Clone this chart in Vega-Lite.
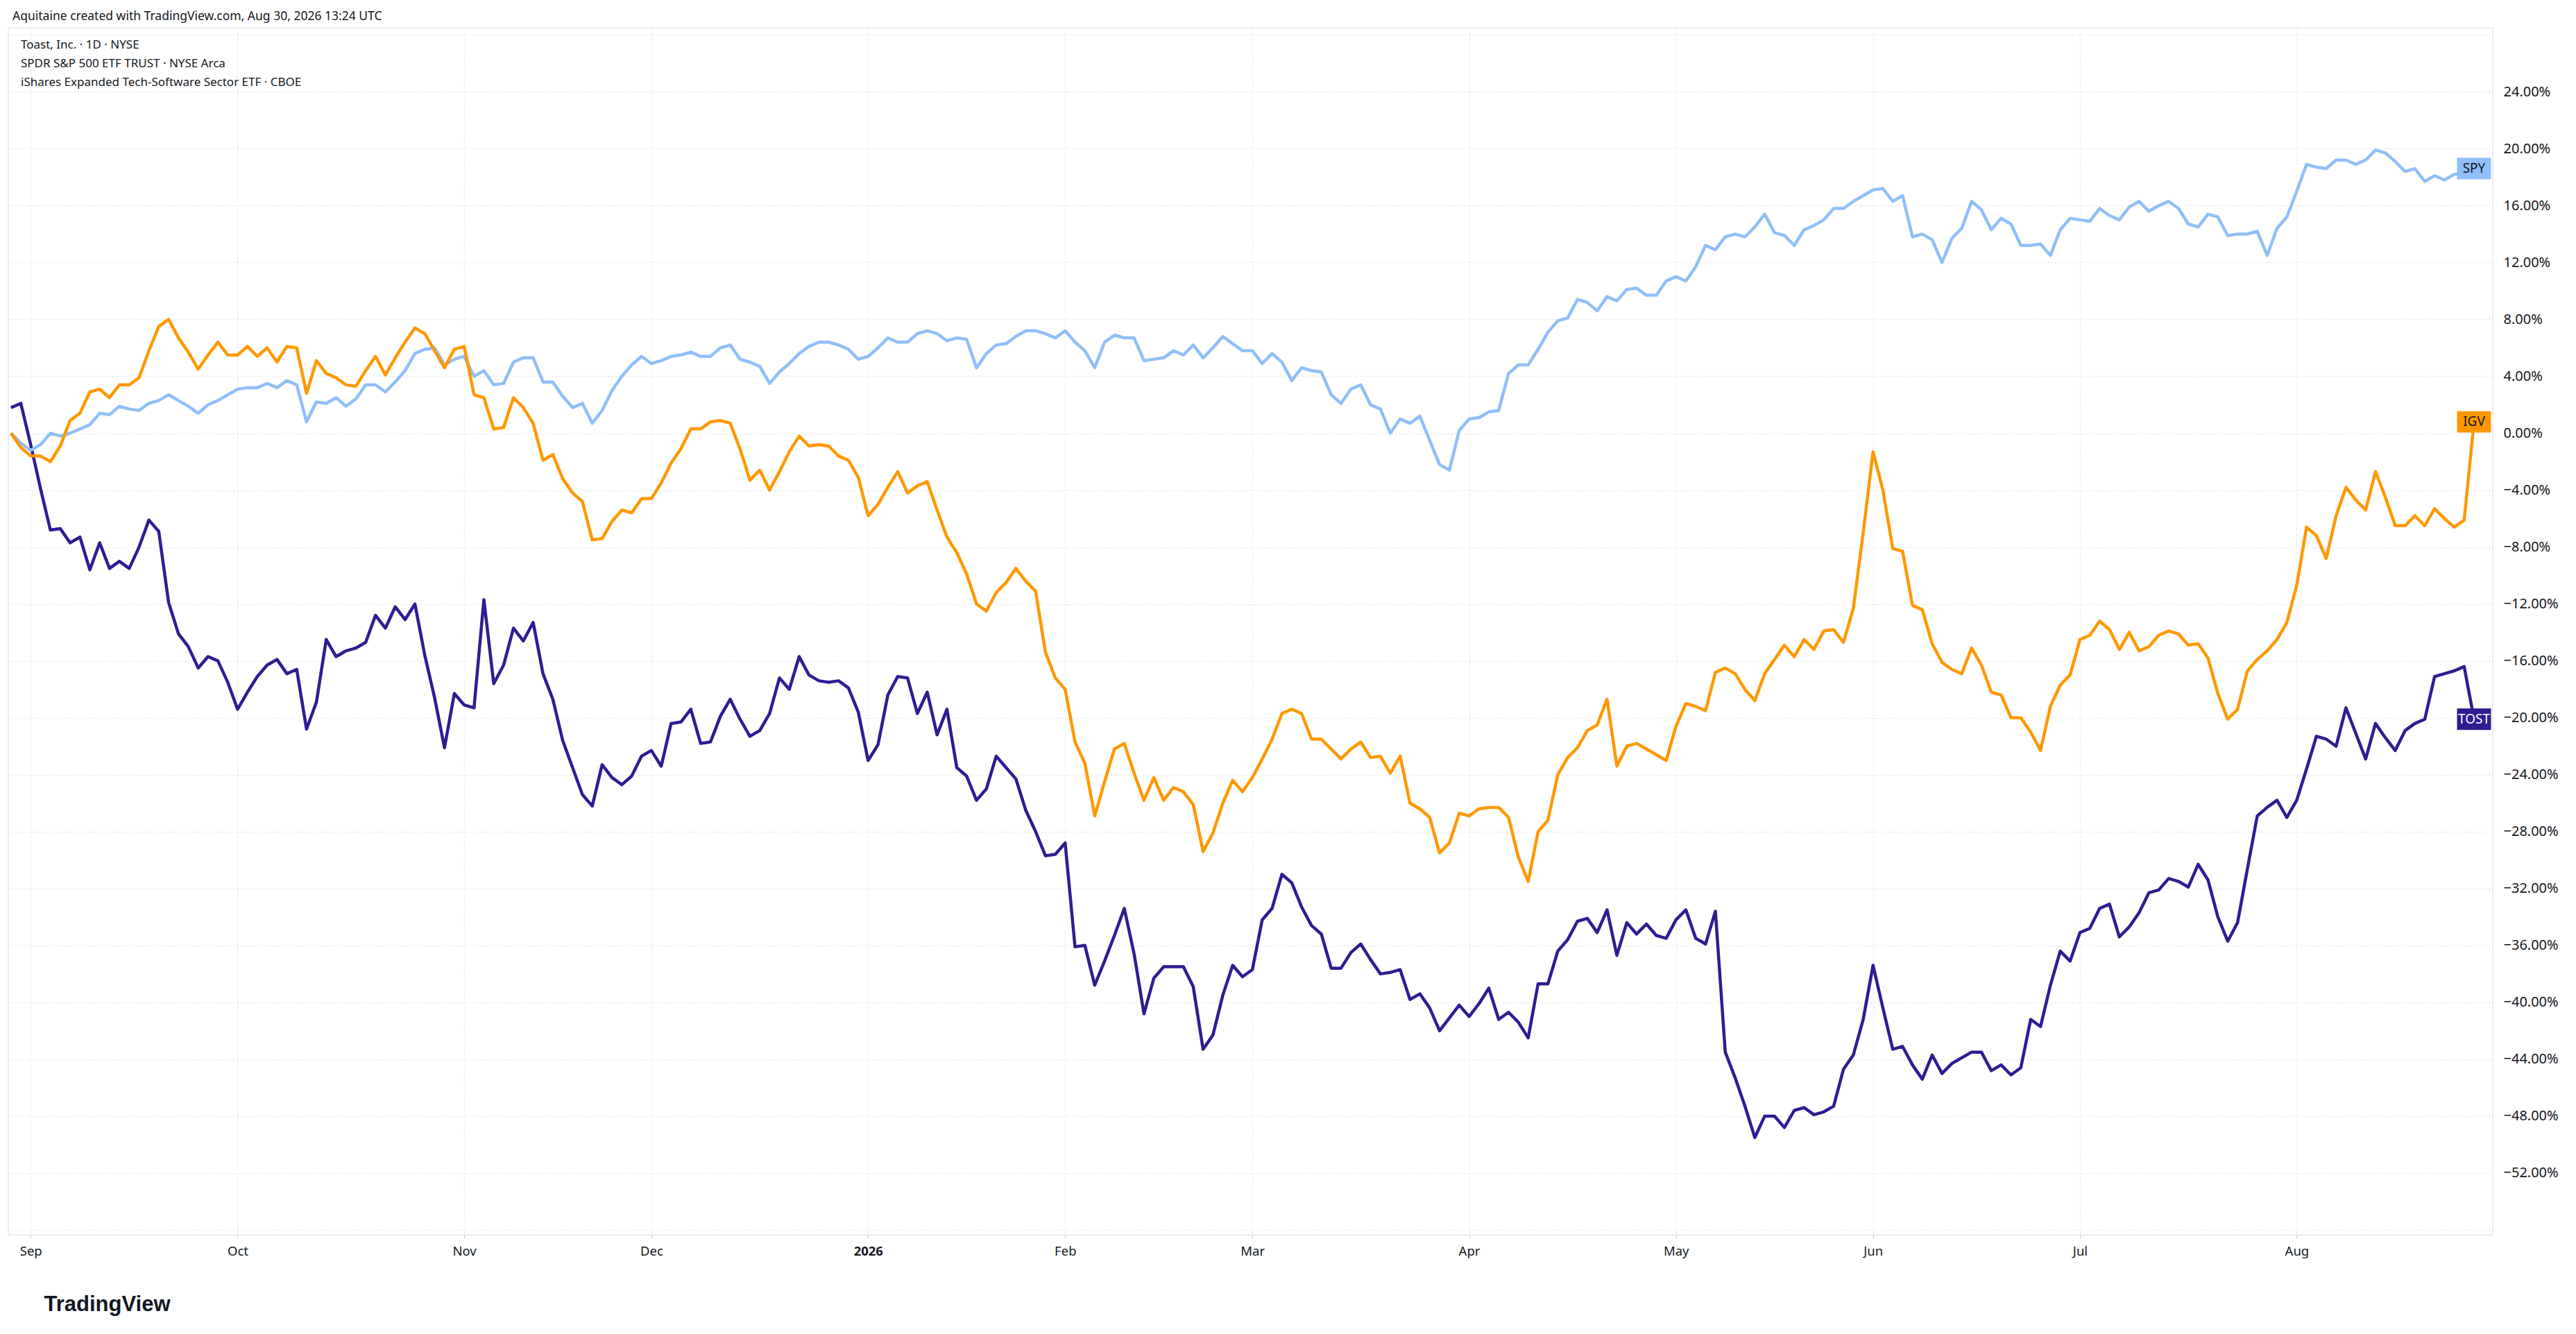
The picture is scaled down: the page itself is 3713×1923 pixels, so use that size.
{
  "$schema": "https://vega.github.io/schema/vega-lite/v6.json",
  "description": "TOST vs SPY vs IGV, percent change, daily, Aug 2025 - Aug 2026",
  "autosize": {"type": "none"},
  "width": 3581,
  "height": 1740,
  "padding": {"left": 12, "top": 40, "right": 120, "bottom": 143},
  "background": "#ffffff",
  "config": {
    "font": "Noto Sans",
    "view": {"stroke": "#e6e9ef", "strokeWidth": 1.5}
  },
  "title": {
    "text": "Aquitaine created with TradingView.com, Aug 30, 2026 13:24 UTC",
    "anchor": "start",
    "frame": "group",
    "fontSize": 17.5,
    "fontWeight": "normal",
    "color": "#131722",
    "baseline": "bottom",
    "offset": 6,
    "dx": 6,
    "dy": 16
  },
  "data": {
    "values": [
      {"i":0,"TOST":1.8,"SPY":0.0,"IGV":0.0},
      {"i":1,"TOST":2.1,"SPY":-0.7,"IGV":-1.0},
      {"i":2,"TOST":-0.8,"SPY":-1.2,"IGV":-1.6},
      {"i":3,"TOST":-3.9,"SPY":-0.8,"IGV":-1.6},
      {"i":4,"TOST":-6.8,"SPY":0.0,"IGV":-2.0},
      {"i":5,"TOST":-6.7,"SPY":-0.2,"IGV":-0.9},
      {"i":6,"TOST":-7.7,"SPY":0.0,"IGV":0.9},
      {"i":7,"TOST":-7.3,"SPY":0.3,"IGV":1.4},
      {"i":8,"TOST":-9.6,"SPY":0.6,"IGV":2.9},
      {"i":9,"TOST":-7.7,"SPY":1.4,"IGV":3.1},
      {"i":10,"TOST":-9.5,"SPY":1.3,"IGV":2.5},
      {"i":11,"TOST":-9.0,"SPY":1.9,"IGV":3.4},
      {"i":12,"TOST":-9.5,"SPY":1.7,"IGV":3.4},
      {"i":13,"TOST":-8.0,"SPY":1.6,"IGV":3.9},
      {"i":14,"TOST":-6.1,"SPY":2.1,"IGV":5.8},
      {"i":15,"TOST":-6.9,"SPY":2.3,"IGV":7.5},
      {"i":16,"TOST":-11.9,"SPY":2.7,"IGV":8.0},
      {"i":17,"TOST":-14.1,"SPY":2.3,"IGV":6.7},
      {"i":18,"TOST":-15.0,"SPY":1.9,"IGV":5.7},
      {"i":19,"TOST":-16.5,"SPY":1.4,"IGV":4.5},
      {"i":20,"TOST":-15.7,"SPY":2.0,"IGV":5.5},
      {"i":21,"TOST":-16.0,"SPY":2.3,"IGV":6.4},
      {"i":22,"TOST":-17.5,"SPY":2.7,"IGV":5.5},
      {"i":23,"TOST":-19.4,"SPY":3.1,"IGV":5.5},
      {"i":24,"TOST":-18.2,"SPY":3.2,"IGV":6.1},
      {"i":25,"TOST":-17.1,"SPY":3.2,"IGV":5.4},
      {"i":26,"TOST":-16.3,"SPY":3.5,"IGV":6.0},
      {"i":27,"TOST":-15.9,"SPY":3.2,"IGV":5.0},
      {"i":28,"TOST":-16.9,"SPY":3.7,"IGV":6.1},
      {"i":29,"TOST":-16.6,"SPY":3.4,"IGV":6.0},
      {"i":30,"TOST":-20.8,"SPY":0.8,"IGV":2.8},
      {"i":31,"TOST":-18.9,"SPY":2.2,"IGV":5.1},
      {"i":32,"TOST":-14.5,"SPY":2.1,"IGV":4.2},
      {"i":33,"TOST":-15.7,"SPY":2.5,"IGV":3.9},
      {"i":34,"TOST":-15.3,"SPY":1.9,"IGV":3.4},
      {"i":35,"TOST":-15.1,"SPY":2.4,"IGV":3.3},
      {"i":36,"TOST":-14.7,"SPY":3.4,"IGV":4.4},
      {"i":37,"TOST":-12.8,"SPY":3.4,"IGV":5.4},
      {"i":38,"TOST":-13.7,"SPY":2.9,"IGV":4.1},
      {"i":39,"TOST":-12.2,"SPY":3.6,"IGV":5.3},
      {"i":40,"TOST":-13.1,"SPY":4.4,"IGV":6.4},
      {"i":41,"TOST":-12.0,"SPY":5.6,"IGV":7.4},
      {"i":42,"TOST":-15.6,"SPY":5.9,"IGV":7.0},
      {"i":43,"TOST":-18.6,"SPY":6.0,"IGV":5.8},
      {"i":44,"TOST":-22.1,"SPY":4.8,"IGV":4.6},
      {"i":45,"TOST":-18.3,"SPY":5.2,"IGV":5.9},
      {"i":46,"TOST":-19.1,"SPY":5.4,"IGV":6.1},
      {"i":47,"TOST":-19.3,"SPY":4.0,"IGV":2.7},
      {"i":48,"TOST":-11.7,"SPY":4.4,"IGV":2.5},
      {"i":49,"TOST":-17.6,"SPY":3.4,"IGV":0.3},
      {"i":50,"TOST":-16.3,"SPY":3.5,"IGV":0.4},
      {"i":51,"TOST":-13.7,"SPY":5.0,"IGV":2.5},
      {"i":52,"TOST":-14.6,"SPY":5.3,"IGV":1.8},
      {"i":53,"TOST":-13.3,"SPY":5.3,"IGV":0.7},
      {"i":54,"TOST":-16.9,"SPY":3.6,"IGV":-1.9},
      {"i":55,"TOST":-18.7,"SPY":3.6,"IGV":-1.5},
      {"i":56,"TOST":-21.6,"SPY":2.6,"IGV":-3.2},
      {"i":57,"TOST":-23.5,"SPY":1.8,"IGV":-4.2},
      {"i":58,"TOST":-25.4,"SPY":2.1,"IGV":-4.8},
      {"i":59,"TOST":-26.2,"SPY":0.7,"IGV":-7.5},
      {"i":60,"TOST":-23.3,"SPY":1.6,"IGV":-7.4},
      {"i":61,"TOST":-24.2,"SPY":3.0,"IGV":-6.2},
      {"i":62,"TOST":-24.7,"SPY":4.0,"IGV":-5.4},
      {"i":63,"TOST":-24.1,"SPY":4.8,"IGV":-5.6},
      {"i":64,"TOST":-22.7,"SPY":5.4,"IGV":-4.6},
      {"i":65,"TOST":-22.3,"SPY":4.9,"IGV":-4.6},
      {"i":66,"TOST":-23.4,"SPY":5.1,"IGV":-3.5},
      {"i":67,"TOST":-20.4,"SPY":5.4,"IGV":-2.1},
      {"i":68,"TOST":-20.3,"SPY":5.5,"IGV":-1.1},
      {"i":69,"TOST":-19.4,"SPY":5.7,"IGV":0.3},
      {"i":70,"TOST":-21.8,"SPY":5.4,"IGV":0.3},
      {"i":71,"TOST":-21.7,"SPY":5.4,"IGV":0.8},
      {"i":72,"TOST":-19.9,"SPY":6.0,"IGV":0.9},
      {"i":73,"TOST":-18.7,"SPY":6.2,"IGV":0.7},
      {"i":74,"TOST":-20.1,"SPY":5.2,"IGV":-1.1},
      {"i":75,"TOST":-21.3,"SPY":5.0,"IGV":-3.3},
      {"i":76,"TOST":-20.9,"SPY":4.7,"IGV":-2.6},
      {"i":77,"TOST":-19.7,"SPY":3.5,"IGV":-4.0},
      {"i":78,"TOST":-17.2,"SPY":4.3,"IGV":-2.7},
      {"i":79,"TOST":-18.0,"SPY":4.9,"IGV":-1.3},
      {"i":80,"TOST":-15.7,"SPY":5.6,"IGV":-0.2},
      {"i":81,"TOST":-17.0,"SPY":6.1,"IGV":-0.9},
      {"i":82,"TOST":-17.4,"SPY":6.4,"IGV":-0.8},
      {"i":83,"TOST":-17.5,"SPY":6.4,"IGV":-0.9},
      {"i":84,"TOST":-17.4,"SPY":6.2,"IGV":-1.6},
      {"i":85,"TOST":-17.9,"SPY":5.9,"IGV":-1.9},
      {"i":86,"TOST":-19.6,"SPY":5.2,"IGV":-3.1},
      {"i":87,"TOST":-23.0,"SPY":5.4,"IGV":-5.8},
      {"i":88,"TOST":-21.9,"SPY":6.0,"IGV":-5.0},
      {"i":89,"TOST":-18.4,"SPY":6.7,"IGV":-3.8},
      {"i":90,"TOST":-17.1,"SPY":6.4,"IGV":-2.7},
      {"i":91,"TOST":-17.2,"SPY":6.4,"IGV":-4.2},
      {"i":92,"TOST":-19.7,"SPY":7.0,"IGV":-3.7},
      {"i":93,"TOST":-18.2,"SPY":7.2,"IGV":-3.4},
      {"i":94,"TOST":-21.2,"SPY":7.0,"IGV":-5.4},
      {"i":95,"TOST":-19.4,"SPY":6.5,"IGV":-7.3},
      {"i":96,"TOST":-23.5,"SPY":6.7,"IGV":-8.4},
      {"i":97,"TOST":-24.1,"SPY":6.6,"IGV":-9.9},
      {"i":98,"TOST":-25.8,"SPY":4.6,"IGV":-12.0},
      {"i":99,"TOST":-25.0,"SPY":5.6,"IGV":-12.5},
      {"i":100,"TOST":-22.7,"SPY":6.2,"IGV":-11.2},
      {"i":101,"TOST":-23.5,"SPY":6.3,"IGV":-10.5},
      {"i":102,"TOST":-24.3,"SPY":6.8,"IGV":-9.5},
      {"i":103,"TOST":-26.5,"SPY":7.2,"IGV":-10.4},
      {"i":104,"TOST":-28.0,"SPY":7.2,"IGV":-11.1},
      {"i":105,"TOST":-29.7,"SPY":7.0,"IGV":-15.4},
      {"i":106,"TOST":-29.6,"SPY":6.7,"IGV":-17.2},
      {"i":107,"TOST":-28.8,"SPY":7.2,"IGV":-18.0},
      {"i":108,"TOST":-36.1,"SPY":6.4,"IGV":-21.7},
      {"i":109,"TOST":-36.0,"SPY":5.8,"IGV":-23.2},
      {"i":110,"TOST":-38.8,"SPY":4.6,"IGV":-26.9},
      {"i":111,"TOST":-37.1,"SPY":6.4,"IGV":-24.5},
      {"i":112,"TOST":-35.3,"SPY":6.9,"IGV":-22.2},
      {"i":113,"TOST":-33.4,"SPY":6.7,"IGV":-21.8},
      {"i":114,"TOST":-36.6,"SPY":6.7,"IGV":-23.9},
      {"i":115,"TOST":-40.8,"SPY":5.1,"IGV":-25.8},
      {"i":116,"TOST":-38.3,"SPY":5.2,"IGV":-24.2},
      {"i":117,"TOST":-37.5,"SPY":5.3,"IGV":-25.8},
      {"i":118,"TOST":-37.5,"SPY":5.8,"IGV":-24.9},
      {"i":119,"TOST":-37.5,"SPY":5.5,"IGV":-25.2},
      {"i":120,"TOST":-38.9,"SPY":6.2,"IGV":-26.1},
      {"i":121,"TOST":-43.3,"SPY":5.3,"IGV":-29.4},
      {"i":122,"TOST":-42.3,"SPY":6.0,"IGV":-28.1},
      {"i":123,"TOST":-39.5,"SPY":6.8,"IGV":-26.0},
      {"i":124,"TOST":-37.4,"SPY":6.3,"IGV":-24.4},
      {"i":125,"TOST":-38.2,"SPY":5.8,"IGV":-25.2},
      {"i":126,"TOST":-37.7,"SPY":5.8,"IGV":-24.2},
      {"i":127,"TOST":-34.2,"SPY":4.9,"IGV":-22.9},
      {"i":128,"TOST":-33.4,"SPY":5.6,"IGV":-21.5},
      {"i":129,"TOST":-31.0,"SPY":5.0,"IGV":-19.7},
      {"i":130,"TOST":-31.6,"SPY":3.7,"IGV":-19.4},
      {"i":131,"TOST":-33.3,"SPY":4.6,"IGV":-19.7},
      {"i":132,"TOST":-34.6,"SPY":4.4,"IGV":-21.5},
      {"i":133,"TOST":-35.2,"SPY":4.3,"IGV":-21.5},
      {"i":134,"TOST":-37.6,"SPY":2.7,"IGV":-22.2},
      {"i":135,"TOST":-37.6,"SPY":2.1,"IGV":-22.9},
      {"i":136,"TOST":-36.5,"SPY":3.1,"IGV":-22.2},
      {"i":137,"TOST":-35.9,"SPY":3.4,"IGV":-21.7},
      {"i":138,"TOST":-37.0,"SPY":2.0,"IGV":-22.8},
      {"i":139,"TOST":-38.0,"SPY":1.7,"IGV":-22.7},
      {"i":140,"TOST":-37.9,"SPY":0.0,"IGV":-23.9},
      {"i":141,"TOST":-37.7,"SPY":1.0,"IGV":-22.7},
      {"i":142,"TOST":-39.8,"SPY":0.7,"IGV":-26.0},
      {"i":143,"TOST":-39.4,"SPY":1.2,"IGV":-26.4},
      {"i":144,"TOST":-40.4,"SPY":-0.5,"IGV":-27.0},
      {"i":145,"TOST":-42.0,"SPY":-2.2,"IGV":-29.5},
      {"i":146,"TOST":-41.1,"SPY":-2.6,"IGV":-28.8},
      {"i":147,"TOST":-40.2,"SPY":0.2,"IGV":-26.7},
      {"i":148,"TOST":-41.0,"SPY":1.0,"IGV":-26.9},
      {"i":149,"TOST":-40.1,"SPY":1.1,"IGV":-26.4},
      {"i":150,"TOST":-39.0,"SPY":1.5,"IGV":-26.3},
      {"i":151,"TOST":-41.2,"SPY":1.6,"IGV":-26.3},
      {"i":152,"TOST":-40.7,"SPY":4.2,"IGV":-27.0},
      {"i":153,"TOST":-41.4,"SPY":4.8,"IGV":-29.8},
      {"i":154,"TOST":-42.5,"SPY":4.8,"IGV":-31.5},
      {"i":155,"TOST":-38.7,"SPY":5.9,"IGV":-28.0},
      {"i":156,"TOST":-38.7,"SPY":7.1,"IGV":-27.2},
      {"i":157,"TOST":-36.4,"SPY":7.9,"IGV":-24.0},
      {"i":158,"TOST":-35.6,"SPY":8.1,"IGV":-22.8},
      {"i":159,"TOST":-34.3,"SPY":9.4,"IGV":-22.1},
      {"i":160,"TOST":-34.1,"SPY":9.2,"IGV":-20.9},
      {"i":161,"TOST":-35.1,"SPY":8.6,"IGV":-20.5},
      {"i":162,"TOST":-33.5,"SPY":9.6,"IGV":-18.7},
      {"i":163,"TOST":-36.7,"SPY":9.3,"IGV":-23.4},
      {"i":164,"TOST":-34.4,"SPY":10.1,"IGV":-22.0},
      {"i":165,"TOST":-35.2,"SPY":10.2,"IGV":-21.8},
      {"i":166,"TOST":-34.5,"SPY":9.7,"IGV":-22.2},
      {"i":167,"TOST":-35.3,"SPY":9.7,"IGV":-22.6},
      {"i":168,"TOST":-35.5,"SPY":10.7,"IGV":-23.0},
      {"i":169,"TOST":-34.2,"SPY":11.0,"IGV":-20.6},
      {"i":170,"TOST":-33.5,"SPY":10.7,"IGV":-19.0},
      {"i":171,"TOST":-35.5,"SPY":11.7,"IGV":-19.2},
      {"i":172,"TOST":-35.9,"SPY":13.2,"IGV":-19.5},
      {"i":173,"TOST":-33.6,"SPY":12.9,"IGV":-16.8},
      {"i":174,"TOST":-43.5,"SPY":13.8,"IGV":-16.5},
      {"i":175,"TOST":-45.3,"SPY":14.0,"IGV":-16.9},
      {"i":176,"TOST":-47.3,"SPY":13.8,"IGV":-18.0},
      {"i":177,"TOST":-49.5,"SPY":14.5,"IGV":-18.8},
      {"i":178,"TOST":-48.0,"SPY":15.4,"IGV":-16.9},
      {"i":179,"TOST":-48.0,"SPY":14.1,"IGV":-15.9},
      {"i":180,"TOST":-48.8,"SPY":13.9,"IGV":-14.9},
      {"i":181,"TOST":-47.6,"SPY":13.2,"IGV":-15.7},
      {"i":182,"TOST":-47.4,"SPY":14.3,"IGV":-14.5},
      {"i":183,"TOST":-47.9,"SPY":14.6,"IGV":-15.2},
      {"i":184,"TOST":-47.7,"SPY":15.0,"IGV":-13.9},
      {"i":185,"TOST":-47.3,"SPY":15.8,"IGV":-13.8},
      {"i":186,"TOST":-44.7,"SPY":15.8,"IGV":-14.7},
      {"i":187,"TOST":-43.7,"SPY":16.3,"IGV":-12.3},
      {"i":188,"TOST":-41.2,"SPY":16.7,"IGV":-7.0},
      {"i":189,"TOST":-37.4,"SPY":17.1,"IGV":-1.3},
      {"i":190,"TOST":-40.4,"SPY":17.2,"IGV":-4.0},
      {"i":191,"TOST":-43.3,"SPY":16.3,"IGV":-8.1},
      {"i":192,"TOST":-43.1,"SPY":16.7,"IGV":-8.3},
      {"i":193,"TOST":-44.4,"SPY":13.8,"IGV":-12.1},
      {"i":194,"TOST":-45.4,"SPY":14.0,"IGV":-12.4},
      {"i":195,"TOST":-43.7,"SPY":13.6,"IGV":-14.8},
      {"i":196,"TOST":-45.0,"SPY":12.0,"IGV":-16.1},
      {"i":197,"TOST":-44.3,"SPY":13.7,"IGV":-16.6},
      {"i":198,"TOST":-43.9,"SPY":14.4,"IGV":-16.9},
      {"i":199,"TOST":-43.5,"SPY":16.3,"IGV":-15.1},
      {"i":200,"TOST":-43.5,"SPY":15.7,"IGV":-16.3},
      {"i":201,"TOST":-44.8,"SPY":14.3,"IGV":-18.2},
      {"i":202,"TOST":-44.4,"SPY":15.1,"IGV":-18.4},
      {"i":203,"TOST":-45.1,"SPY":14.7,"IGV":-20.0},
      {"i":204,"TOST":-44.6,"SPY":13.2,"IGV":-20.0},
      {"i":205,"TOST":-41.2,"SPY":13.2,"IGV":-21.0},
      {"i":206,"TOST":-41.7,"SPY":13.3,"IGV":-22.3},
      {"i":207,"TOST":-38.8,"SPY":12.5,"IGV":-19.2},
      {"i":208,"TOST":-36.4,"SPY":14.3,"IGV":-17.7},
      {"i":209,"TOST":-37.1,"SPY":15.1,"IGV":-17.0},
      {"i":210,"TOST":-35.1,"SPY":15.0,"IGV":-14.5},
      {"i":211,"TOST":-34.8,"SPY":14.9,"IGV":-14.2},
      {"i":212,"TOST":-33.4,"SPY":15.8,"IGV":-13.2},
      {"i":213,"TOST":-33.1,"SPY":15.3,"IGV":-13.8},
      {"i":214,"TOST":-35.4,"SPY":15.0,"IGV":-15.2},
      {"i":215,"TOST":-34.7,"SPY":15.9,"IGV":-14.0},
      {"i":216,"TOST":-33.7,"SPY":16.3,"IGV":-15.3},
      {"i":217,"TOST":-32.3,"SPY":15.6,"IGV":-15.0},
      {"i":218,"TOST":-32.1,"SPY":16.0,"IGV":-14.2},
      {"i":219,"TOST":-31.3,"SPY":16.3,"IGV":-13.9},
      {"i":220,"TOST":-31.5,"SPY":15.8,"IGV":-14.1},
      {"i":221,"TOST":-31.9,"SPY":14.7,"IGV":-14.9},
      {"i":222,"TOST":-30.3,"SPY":14.5,"IGV":-14.8},
      {"i":223,"TOST":-31.4,"SPY":15.4,"IGV":-15.8},
      {"i":224,"TOST":-34.0,"SPY":15.2,"IGV":-18.3},
      {"i":225,"TOST":-35.7,"SPY":13.9,"IGV":-20.1},
      {"i":226,"TOST":-34.4,"SPY":14.0,"IGV":-19.4},
      {"i":227,"TOST":-30.6,"SPY":14.0,"IGV":-16.7},
      {"i":228,"TOST":-26.9,"SPY":14.2,"IGV":-15.9},
      {"i":229,"TOST":-26.3,"SPY":12.5,"IGV":-15.3},
      {"i":230,"TOST":-25.8,"SPY":14.4,"IGV":-14.5},
      {"i":231,"TOST":-27.0,"SPY":15.2,"IGV":-13.3},
      {"i":232,"TOST":-25.8,"SPY":17.0,"IGV":-10.7},
      {"i":233,"TOST":-23.6,"SPY":18.9,"IGV":-6.6},
      {"i":234,"TOST":-21.3,"SPY":18.7,"IGV":-7.2},
      {"i":235,"TOST":-21.5,"SPY":18.6,"IGV":-8.8},
      {"i":236,"TOST":-22.0,"SPY":19.2,"IGV":-5.8},
      {"i":237,"TOST":-19.3,"SPY":19.2,"IGV":-3.8},
      {"i":238,"TOST":-21.1,"SPY":18.9,"IGV":-4.7},
      {"i":239,"TOST":-22.9,"SPY":19.2,"IGV":-5.4},
      {"i":240,"TOST":-20.4,"SPY":19.9,"IGV":-2.7},
      {"i":241,"TOST":-21.4,"SPY":19.7,"IGV":-4.5},
      {"i":242,"TOST":-22.3,"SPY":19.1,"IGV":-6.5},
      {"i":243,"TOST":-20.9,"SPY":18.4,"IGV":-6.5},
      {"i":244,"TOST":-20.4,"SPY":18.6,"IGV":-5.8},
      {"i":245,"TOST":-20.1,"SPY":17.7,"IGV":-6.5},
      {"i":246,"TOST":-17.1,"SPY":18.1,"IGV":-5.3},
      {"i":247,"TOST":-16.9,"SPY":17.8,"IGV":-6.0},
      {"i":248,"TOST":-16.7,"SPY":18.2,"IGV":-6.6},
      {"i":249,"TOST":-16.4,"SPY":18.3,"IGV":-6.1},
      {"i":250,"TOST":-20.1,"SPY":18.6,"IGV":0.8}
    ]
  },
  "transform": [
    {"fold": ["TOST", "SPY", "IGV"], "as": ["s", "v"]}
  ],
  "encoding": {
    "x": {
      "field": "i",
      "type": "quantitative",
      "scale": {"domain": [-0.27, 251.9], "nice": false, "zero": false},
      "axis": {
        "orient": "bottom",
        "values": [2, 23, 46, 65, 87, 107, 126, 148, 169, 189, 210, 232],
        "labelExpr": "['Sep','Oct','Nov','Dec','2026','Feb','Mar','Apr','May','Jun','Jul','Aug'][indexof([2,23,46,65,87,107,126,148,169,189,210,232], datum.value)]",
        "labelFontSize": 18.5,
        "labelColor": "#131722",
        "labelFontWeight": {"condition": {"test": "datum.value == 87", "value": "bold"}, "value": "normal"},
        "labelPadding": 9,
        "labelFlush": false,
        "labelOverlap": false,
        "domain": false,
        "ticks": true,
        "tickSize": 5,
        "tickColor": "#c9ccd4",
        "grid": true,
        "gridColor": "#e3e6ec",
        "gridDash": [2, 3],
        "gridWidth": 1.5,
        "title": "TradingView",
        "titleFont": "Liberation Sans",
        "titleFontSize": 31,
        "titleFontWeight": "bold",
        "titleColor": "#131722",
        "titleAlign": "left",
        "titleBaseline": "middle",
        "titleX": 51,
        "titleY": 100
      }
    },
    "y": {
      "field": "v",
      "type": "quantitative",
      "scale": {"domain": [-56.34, 28.5], "nice": false, "zero": false},
      "axis": {
        "orient": "right",
        "values": [-56, -52, -48, -44, -40, -36, -32, -28, -24, -20, -16, -12, -8, -4, 0, 4, 8, 12, 16, 20, 24, 28],
        "labelExpr": "datum.value > 26 || datum.value < -54 ? '' : format(datum.value, '.2f') + '%'",
        "labelFontSize": 20,
        "labelColor": "#131722",
        "labelPadding": 15,
        "labelFlush": false,
        "labelOverlap": false,
        "domain": false,
        "ticks": false,
        "grid": true,
        "gridColor": "#e3e6ec",
        "gridDash": [2, 3],
        "gridWidth": 1.5,
        "title": null
      }
    },
    "color": {
      "field": "s",
      "type": "nominal",
      "scale": {"domain": ["TOST", "SPY", "IGV"], "range": ["#311b92", "#90bff9", "#ff9800"]},
      "legend": {
        "orient": "none",
        "legendX": 1,
        "legendY": 16,
        "padding": 0,
        "title": null,
        "labelExpr": "datum.label == 'TOST' ? 'Toast, Inc. · 1D · NYSE' : datum.label == 'SPY' ? 'SPDR S&P 500 ETF TRUST · NYSE Arca' : 'iShares Expanded Tech-Software Sector ETF · CBOE'",
        "labelFontSize": 17,
        "labelColor": "#131722",
        "labelLimit": 2000,
        "labelOffset": 0,
        "symbolSize": 0,
        "symbolOpacity": 0,
        "symbolStrokeWidth": 0,
        "rowPadding": 9
      }
    }
  },
  "layer": [
    {
      "data": {"values": [{}]},
      "mark": {"type": "rule", "color": "#b2b5be", "strokeWidth": 1.5},
      "encoding": {"y": {"datum": 0}, "x": null, "color": null}
    },
    {
      "mark": {"type": "line", "strokeWidth": 4.5, "strokeJoin": "round"},
      "encoding": {"order": {"field": "i"}}
    },
    {
      "transform": [{"filter": "datum.i == 250"}],
      "mark": {"type": "point", "shape": "M-1,-0.63H1V0.63H-1Z", "filled": true, "opacity": 1, "size": 2401, "strokeWidth": 0}
    },
    {
      "transform": [{"filter": "datum.i == 250"}],
      "mark": {"type": "text", "fontSize": 19, "baseline": "middle", "align": "center"},
      "encoding": {
        "text": {"field": "s"},
        "color": {"condition": {"test": "datum.s == 'TOST'", "value": "#ffffff"}, "value": "#131722"}
      }
    }
  ]
}
